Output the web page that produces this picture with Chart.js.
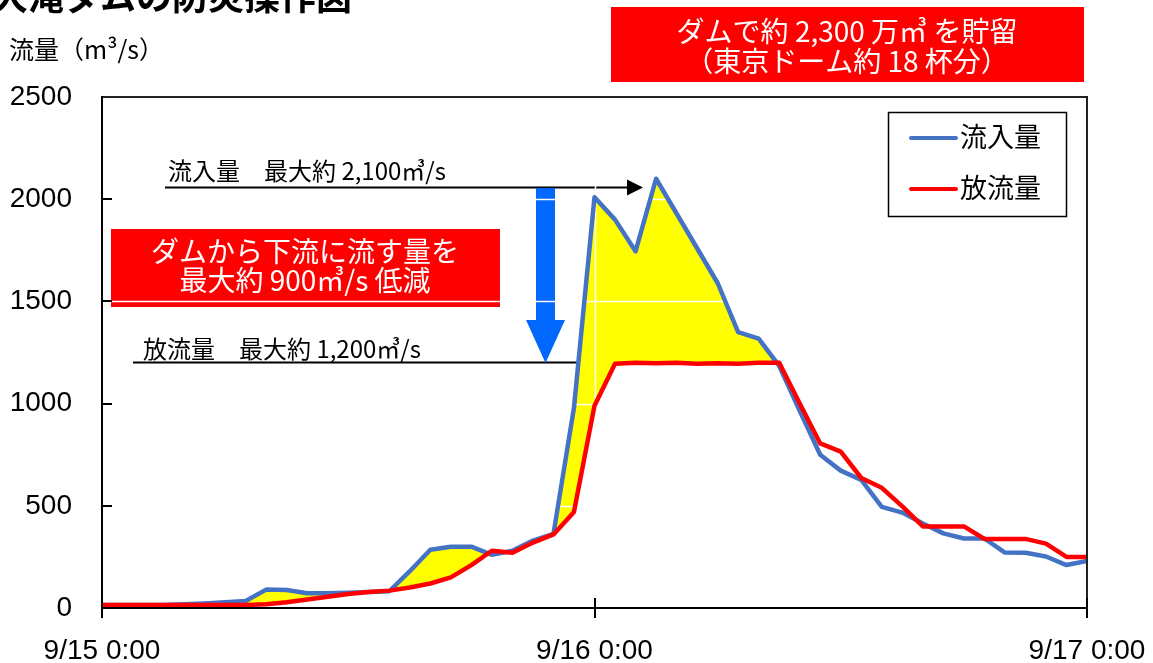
<!DOCTYPE html>
<html lang="ja">
<head>
<meta charset="utf-8">
<script src="https://cdn.jsdelivr.net/npm/chart.js@4.4.1/dist/chart.umd.min.js"></script>
<style>html,body{margin:0;padding:0;background:#fff;overflow:hidden}canvas{display:block}</style>
</head>
<body>
<canvas id="c" width="1153" height="663"></canvas>
<script>
// ---- data (hours from 9/15 0:00) ----
const hours = [0,1,2,3,4,5,6,7,8,9,10,11,12,13,14,15,16,17,18,19,20,21,22,23,24,25,26,27,28,29,30,31,32,33,34,35,36,37,38,39,40,41,42,43,44,45,46,47,48];
const inflow = [15,15,15,15,18,22,28,34,90,88,72,72,75,78,82,180,285,300,300,260,280,330,362,980,2010,1900,1745,2100,1930,1760,1590,1350,1318,1185,965,750,672,627,495,467,413,365,340,340,271,270,252,210,230];
const outflow = [15,15,15,15,15,15,15,15,18,28,42,55,68,78,85,100,120,150,210,280,270,320,360,470,990,1195,1200,1198,1200,1195,1198,1195,1200,1200,1000,805,765,636,588,497,399,399,399,338,338,338,315,250,250];
const xTickHours = [0,24,48];
const xTickLabels = ['9/15 0:00','9/16 0:00','9/17 0:00'];
const yTickValues = [0,500,1000,1500,2000,2500];
const seriesNames = ['流入量','放流量'];
const titleText = '大滝ダムの防災操作図';
const yTitle = '流量（m³/s）';
const noteTop = ['ダムで約 2,300 万㎥ を貯留','（東京ドーム約 18 杯分）'];
const noteLeft = ['ダムから下流に流す量を','最大約 900㎥/s 低減'];
const noteIn = '流入量　最大約 2,100㎥/s';
const noteOut = '放流量　最大約 1,200㎥/s';

const BLUE = '#4472C4', RED = '#FF0000', YELLOW = '#FFFF00';
const JP = '"Noto Sans CJK JP", sans-serif';
const NUM = '"Liberation Sans", Arial, sans-serif';

function seg(ctx, x1, y1, x2, y2){ ctx.beginPath(); ctx.moveTo(x1,y1); ctx.lineTo(x2,y2); ctx.stroke(); }

const deco = {
  id: 'deco',
  beforeDatasetsDraw(chart){
    const ctx = chart.ctx;
    ctx.save();
    // left red note box
    ctx.fillStyle = RED;
    ctx.fillRect(111, 229, 389, 78);
    ctx.fillStyle = '#fff';
    ctx.font = '28px ' + JP;
    ctx.textAlign = 'center'; ctx.textBaseline = 'middle';
    ctx.fillText(noteLeft[0], 305, 251);
    ctx.fillText(noteLeft[1], 305, 280);
    // max annotations
    ctx.fillStyle = '#000';
    ctx.font = '24px ' + JP;
    ctx.textAlign = 'left';
    ctx.fillText(noteIn, 168, 171);
    ctx.fillText(noteOut, 143, 349);
    ctx.strokeStyle = '#000'; ctx.lineWidth = 2;
    seg(ctx, 165, 187.5, 630, 187.5);
    ctx.beginPath(); ctx.moveTo(627, 179.5); ctx.lineTo(643, 187.5); ctx.lineTo(627, 195.5); ctx.closePath(); ctx.fill();
    seg(ctx, 133, 362.5, 578, 362.5);
    // blue reduction arrow
    ctx.fillStyle = '#0068FF';
    ctx.fillRect(536, 188, 19, 134);
    ctx.beginPath(); ctx.moveTo(526, 320); ctx.lineTo(565, 320); ctx.lineTo(545.5, 363); ctx.closePath(); ctx.fill();
    ctx.restore();
  },
  afterDatasetDraw(chart, args){
    if (args.index !== 2) return;
    const {ctx, chartArea: ca, scales: {x, y}} = chart;
    ctx.save();
    ctx.strokeStyle = '#fff'; ctx.lineWidth = 1.5;
    for (const v of yTickValues){
      if (v === 0 || v === 2500) continue;
      const py = Math.round(y.getPixelForValue(v)) + 0.5;
      seg(ctx, ca.left, py, ca.right, py);
    }
    const px = Math.round(x.getPixelForValue(24)) + 0.5;
    seg(ctx, px, ca.top, px, ca.bottom);
    ctx.restore();
  },
  afterDraw(chart){
    const {ctx, chartArea: ca, scales: {x, y}} = chart;
    ctx.save();
    // border & axes
    ctx.strokeStyle = '#222'; ctx.lineWidth = 2;
    seg(ctx, ca.left, ca.top, ca.right + 1, ca.top);
    seg(ctx, ca.right, ca.top, ca.right, ca.bottom);
    ctx.strokeStyle = '#000';
    seg(ctx, ca.left, ca.top - 1, ca.left, ca.bottom + 10);
    seg(ctx, ca.left - 1, ca.bottom, ca.right + 1, ca.bottom);
    for (const h of xTickHours){
      const px = Math.round(x.getPixelForValue(h));
      seg(ctx, px, ca.bottom - 10, px, ca.bottom + 10);
    }
    for (const v of yTickValues){
      if (v === 0 || v === 2500) continue;
      const py = Math.round(y.getPixelForValue(v));
      seg(ctx, ca.left, py, ca.left + 10, py);
    }
    // legend
    ctx.fillStyle = '#fff';
    ctx.fillRect(888, 112, 178, 104);
    ctx.strokeStyle = '#000'; ctx.lineWidth = 1.5;
    ctx.strokeRect(888.5, 112.5, 178, 104);
    const ds = chart.data.datasets;
    const ly = [138, 189];
    ctx.lineCap = 'round';
    ctx.font = '27px ' + JP; ctx.textAlign = 'left'; ctx.textBaseline = 'middle';
    for (let i = 0; i < 2; i++){
      ctx.strokeStyle = ds[i].borderColor; ctx.lineWidth = 4;
      seg(ctx, 911, ly[i], 956, ly[i]);
      ctx.fillStyle = '#000';
      ctx.fillText(ds[i].label, 960, ly[i] - 1);
    }
    ctx.lineCap = 'butt';
    // top note box
    ctx.fillStyle = RED;
    ctx.fillRect(611, 7, 473, 75);
    ctx.fillStyle = '#fff';
    ctx.font = '28px ' + JP; ctx.textAlign = 'center';
    ctx.fillText(noteTop[0], 847, 31);
    ctx.fillText(noteTop[1], 847, 61);
    // title (cut at top)
    ctx.fillStyle = '#000';
    ctx.font = 'bold 36px ' + JP; ctx.textAlign = 'left'; ctx.textBaseline = 'alphabetic';
    ctx.fillText(titleText, -8, 10);
    // y-axis title
    ctx.font = '25px ' + JP; ctx.textBaseline = 'middle';
    ctx.fillText(yTitle, 9, 49);
    ctx.restore();
  }
};

const pts = arr => hours.map((h, i) => ({x: h, y: arr[i]}));

new Chart(document.getElementById('c'), {
  type: 'line',
  data: {
    datasets: [
      {label: seriesNames[0], data: pts(inflow), borderColor: BLUE, borderWidth: 4.5, pointRadius: 0, tension: 0, fill: false, order: 2, borderJoinStyle: 'round', borderCapStyle: 'round'},
      {label: seriesNames[1], data: pts(outflow), borderColor: RED, borderWidth: 4.5, pointRadius: 0, tension: 0, fill: false, order: 1, borderJoinStyle: 'round', borderCapStyle: 'round'},
      {label: '貯留量', data: pts(inflow), borderColor: 'rgba(0,0,0,0)', borderWidth: 0, pointRadius: 0, tension: 0, order: 3,
       fill: {target: 1, above: YELLOW, below: 'rgba(0,0,0,0)'}}
    ]
  },
  options: {
    responsive: false,
    devicePixelRatio: 1,
    animation: false,
    layout: {padding: {left: 0, right: 66, top: 97, bottom: 0}},
    plugins: {legend: {display: false}, tooltip: {enabled: false}},
    scales: {
      x: {
        type: 'linear', min: 0, max: 48,
        afterBuildTicks: s => { s.ticks = xTickHours.map(v => ({value: v})); },
        afterFit: s => { s.height = 55; s.paddingLeft = 0; s.paddingRight = 0; },
        ticks: {callback: (v, i) => xTickLabels[i], font: {family: NUM, size: 28}, color: '#000', padding: 26, maxRotation: 0, minRotation: 0, autoSkip: false},
        grid: {display: false, drawTicks: false},
        border: {display: false}
      },
      y: {
        min: 0, max: 2500,
        afterBuildTicks: s => { s.ticks = yTickValues.map(v => ({value: v})); },
        afterFit: s => { s.width = 102; s.paddingTop = 0; s.paddingBottom = 0; },
        ticks: {callback: v => String(v), font: {family: NUM, size: 28}, color: '#000', padding: 30},
        grid: {display: false, drawTicks: false},
        border: {display: false}
      }
    }
  },
  plugins: [deco]
});
</script>
</body>
</html>
